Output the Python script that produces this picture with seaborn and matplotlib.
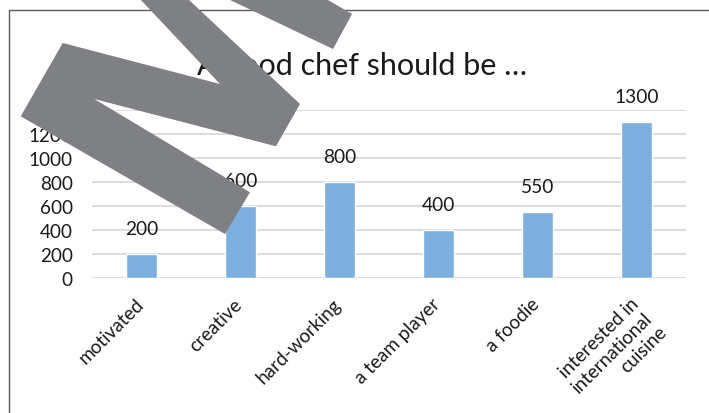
import matplotlib
matplotlib.use("Agg")
import matplotlib.pyplot as plt
import matplotlib.transforms as mtrans
from matplotlib.patches import Polygon, Rectangle
import seaborn as sns
import pandas as pd

categories = ["motivated", "creative", "hard-working", "a team player", "a foodie",
              "interested in\ninternational\ncuisine"]
values = [200, 600, 800, 400, 550, 1300]
yticks = [0, 200, 400, 600, 800, 1000, 1200, 1400]
title = "A good chef should be \u2026"

W, H = 709, 414
sns.set_theme(style="white")
plt.rcParams["font.family"] = ["Lato", "DejaVu Sans"]

fig = plt.figure(figsize=(W / 100, H / 100), dpi=100)
fig.patch.set_facecolor("white")

def fx(x):
    return x / W

def fy(y):
    return 1 - y / H

ax = fig.add_axes([fx(92), fy(279), fx(686) - fx(92), fy(111) - fy(279)])
df = pd.DataFrame({"cat": categories, "val": values})
sns.barplot(data=df, x="cat", y="val", color="#7DB0DE", saturation=1, width=0.32, ax=ax)

ax.set_ylim(0, 1400)
ax.set_yticks(yticks)
ax.set_yticklabels([str(v) for v in yticks])
ax.set_xlim(-0.5, len(categories) - 0.5)
ax.yaxis.grid(True, color="#D9D9D9", linewidth=1.3)
ax.set_axisbelow(True)
for s in ax.spines.values():
    s.set_visible(False)
ax.set_xlabel("")
ax.set_ylabel("")
ax.tick_params(axis="y", length=0, pad=14, labelsize=13.6, labelcolor="#1a1a1a")
ax.tick_params(axis="x", length=0, pad=12, labelsize=13.6, labelcolor="#1a1a1a")
ax.set_xticks(range(len(categories)))
ax.set_xticklabels(categories, rotation=45, ha="right", va="top",
                   rotation_mode="anchor", multialignment="right")
shift = mtrans.ScaledTranslation(-5 / 72, 0, fig.dpi_scale_trans)
for lbl in ax.get_xticklabels():
    lbl.set_transform(lbl.get_transform() + shift)
for c in ax.containers:
    ax.bar_label(c, padding=12, fontsize=13.8, color="#1a1a1a")

fig.text(fx(362), fy(66), title, ha="center", va="center", fontsize=22, color="#1a1a1a")

# chart frame
fig.patches.append(Rectangle((fx(8.5), fy(440)), fx(730), fy(10.5) - fy(440),
                             transform=fig.transFigure, fill=False,
                             edgecolor="#595959", linewidth=1.0))

# grey overlay shape
gray = "#7f8083"
main = [(20.7, 117.3), (62.7, 44), (220, 85), (130.6, -10), (177.3, -10),
        (300, 105), (276, 147.3), (94.3, 100), (250, 193.3), (225, 235)]
band = [(207, -10), (309, -10), (352, 15), (333, 50)]
for pts in (main, band):
    fig.patches.append(Polygon([(fx(x), fy(y)) for x, y in pts], closed=True,
                               transform=fig.transFigure, facecolor=gray,
                               edgecolor="none", zorder=10))

fig.savefig("out.png", dpi=100)
